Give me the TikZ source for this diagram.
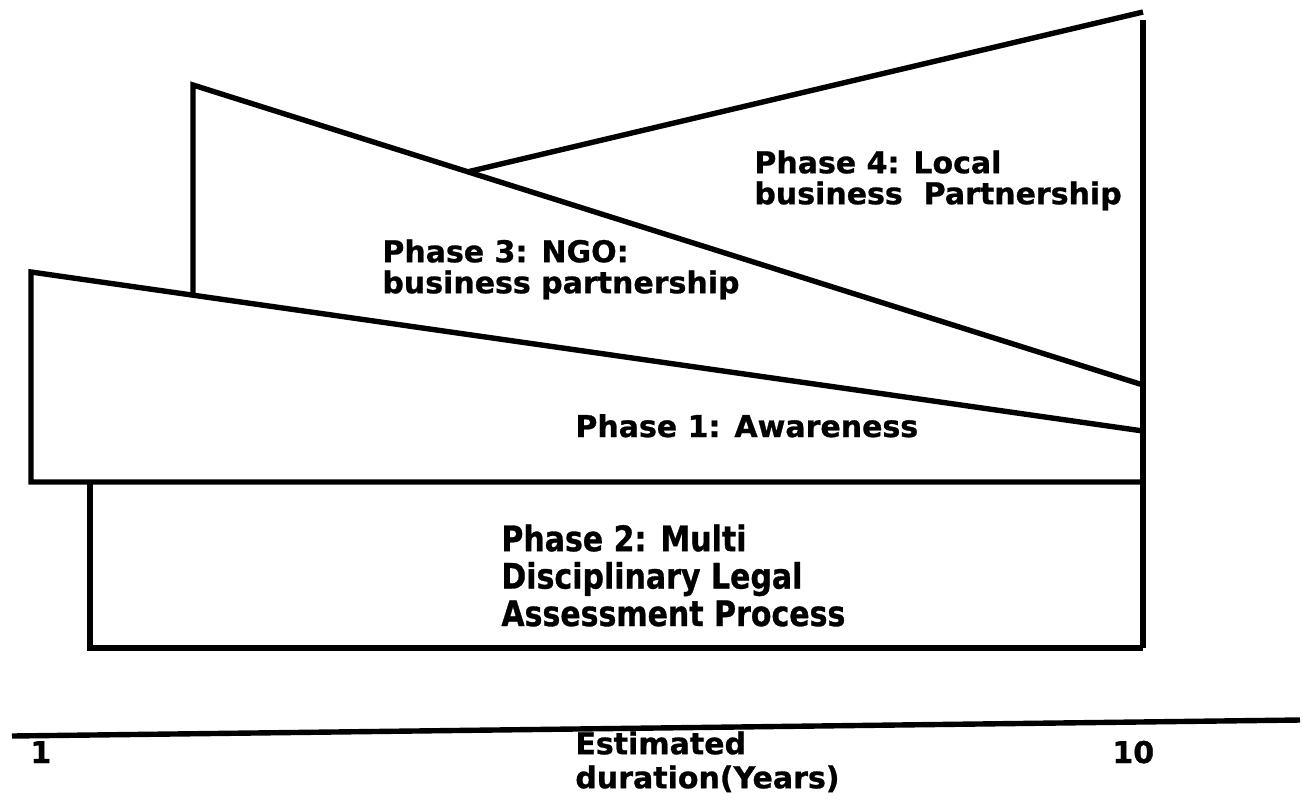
\documentclass[tikz,border=0pt]{standalone}
\usepackage{fontspec}
\setmainfont{DejaVu Sans}[BoldFeatures={FakeBold=0.9}]
\begin{document}
\begin{tikzpicture}[x=0.5pt, y=-0.5pt,
  edge/.style={line width=2.7pt, line join=miter},
  label/.style={inner sep=0pt, align=left, font=\bfseries\fontsize{15}{15.5}\selectfont},
  tick/.style={inner sep=0pt, font=\bfseries\fontsize{15}{15}\selectfont}]
\useasboundingbox (0,0) rectangle (1303,800);

% corner points of the four phase outlines
\coordinate (p1tl) at (31,272);
\coordinate (p1bl) at (31,482);
\coordinate (p1tr) at (1143,431);
\coordinate (p1br) at (1143,482);
\coordinate (p2tl) at (90,482);
\coordinate (p2bl) at (90,648);
\coordinate (p2br) at (1143,648);
\coordinate (p3bl) at (193,294);
\coordinate (p3tl) at (193,85);
\coordinate (p3tr) at (1143,385);
\coordinate (p4j)  at (467,172);
\coordinate (p4tr) at (1143,12);
\coordinate (rtop) at (1143,20);
\coordinate (axl)  at (12,736);
\coordinate (axr)  at (1300,720);

% Phase 1 wedge
\draw[edge] (p1tr) -- (p1tl) -- (p1bl) -- (p1br);
% Phase 2 box
\draw[edge] (p2tl) -- (p2bl) -- (p2br);
% Phase 3 wedge
\draw[edge] (p3bl) -- (p3tl) -- (p3tr);
% Phase 4 wedge
\draw[edge] (p4j) -- (p4tr);
% common right edge
\draw[edge] (rtop) -- (p2br);
% time axis
\draw[edge] (axl) -- (axr);

% phase labels
\node[label, anchor=north west] (ph4) at (754,150)
  {Phase 4: Local\\business\ \ Partnership};
\node[label, anchor=north west] (ph3) at (382,239)
  {Phase 3: NGO:\\business partnership};
\node[label, anchor=base west] (ph1) at (575,437) {Phase 1: Awareness};
\node[label, anchor=north west, yscale=1.17, transform shape,
      font=\bfseries\fontsize{15}{16}\selectfont] (ph2) at (501,524)
  {Phase 2: Multi\\Disciplinary Legal\\Assessment Process};

% axis labels
\node[tick, anchor=base west] (t1) at (30,763) {1};
\node[tick, anchor=base west] (t10) at (1112,763) {10};
\node[label, anchor=north west, font=\bfseries\fontsize{15}{17}\selectfont] (dur) at (575,731)
  {Estimated\\duration(Years)};
\end{tikzpicture}
\end{document}
